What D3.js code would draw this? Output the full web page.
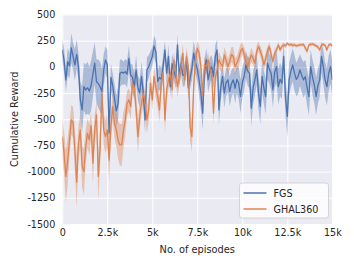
<!DOCTYPE html>
<html>
<head>
<meta charset="utf-8">
<script src="https://cdn.jsdelivr.net/npm/d3@7"></script>
<style>
  body { margin: 0; background: #fff; }
  text { font-family: "DejaVu Sans", sans-serif; fill: #262626; }
</style>
</head>
<body>
<div id="chart"></div>
<script>
// episodes sampled every 100
const episodes = d3.range(0, 15001, 100)

const fgsMean = [
  162, 60, -124, 50, 10, 180, 100, 20, 120, 0,
  -315, -410, -188, -220, -200, -230, -180, -70, 35, -140,
  -160, -190, -235, -29, 66, 20, -633, -100, -180, -300,
  -420, -350, -61, -50, -60, -45, -70, 82, -80, -100,
  -188, -30, -200, -250, -90, -250, -506, -30, 0, 50,
  98, 200, 140, -140, -100, -120, 0, 162, -60, 100,
  -190, 30, -40, -100, 210, -90, 30, -80, -80, 60,
  -200, -110, -20, 130, 40, -20, -130, -250, -442, -50,
  67, -124, -40, 3, -92, 100, 162, -410, -200, -92,
  -251, -150, -124, -235, -160, -124, -204, -120, -156, -283,
  -150, -92, 19, -40, -60, -394, -200, -124, -29, -250,
  -378, -92, -200, -283, 35, -20, -60, -219, -50, 3,
  -188, -120, -156, 99, -300, -474, -124, -40, 19, -60,
  -120, -92, -29, -80, -124, -92, -200, -283, 3, -100,
  -172, -283, -180, -124, 99, 0, -124, -188, -60, 3,
  -124
]
const fgsSpread = [
  100, 120, 110, 130, 120, 140, 130, 150, 140, 130,
  180, 220, 230, 240, 250, 230, 240, 220, 200, 210,
  230, 240, 220, 150, 130, 140, 160, 130, 120, 140,
  150, 160, 130, 120, 110, 120, 130, 120, 110, 120,
  130, 140, 120, 130, 140, 150, 130, 120, 110, 100,
  90, 100, 110, 100, 120, 110, 100, 90, 100, 110,
  100, 90, 100, 110, 100, 90, 100, 110, 100, 90,
  110, 100, 110, 120, 110, 120, 140, 160, 160, 120,
  110, 120, 130, 110, 120, 110, 100, 150, 130, 120,
  140, 130, 120, 140, 130, 120, 140, 130, 150, 160,
  150, 140, 130, 140, 150, 170, 160, 150, 140, 160,
  170, 150, 160, 170, 150, 140, 160, 170, 150, 160,
  170, 160, 150, 140, 170, 190, 160, 150, 160, 170,
  160, 170, 150, 160, 170, 160, 170, 180, 160, 170,
  170, 180, 170, 160, 150, 160, 170, 180, 170, 160,
  170
]
const ghalMean = [
  -665, -824, -1046, -900, -700, -506, -530, -800, -1100, -729,
  -601, -950, -1000, -760, -633, -697, -560, -919, -600, -458,
  -1046, -780, -252, -601, -665, -601, -888, -570, -379, -538,
  -601, -700, -745, -745, -601, -506, -347, -315, -379, -156,
  -188, -400, -665, -474, -347, -252, -347, -506, -410, -156,
  -315, -92, -200, -283, -410, -150, -50, -506, -220, -124,
  -61, -220, 66, -61, -188, -92, 3, 130, -124, 98,
  3, -570, -665, -188, 66, 178, 130, 3, -267, 20,
  3, 67, -20, -60, -442, -100, -29, 67, 30, 3,
  115, 60, 3, 51, 120, 99, 3, 35, 80, 146,
  178, 120, 51, 3, 60, 115, 80, 35, 146, 194,
  150, 99, 19, 80, 146, 194, 120, 51, 130, 160,
  210, 162, 194, 210, 200, 226, 210, 215, 205, 210,
  200, 205, 210, 210, 215, 178, 150, 210, 215, 220,
  210, 200, 190, 162, 210, 215, 205, 162, 210, 215,
  200
]
const ghalSpread = [
  180, 200, 250, 220, 160, 140, 150, 200, 250, 170,
  150, 200, 220, 160, 140, 150, 130, 200, 150, 120,
  230, 180, 130, 150, 160, 150, 200, 150, 120, 140,
  160, 180, 200, 200, 170, 150, 120, 110, 120, 100,
  110, 130, 160, 130, 110, 100, 110, 130, 110, 90,
  100, 90, 100, 110, 120, 90, 80, 130, 100, 90,
  80, 100, 80, 90, 100, 90, 80, 90, 80, 90,
  80, 140, 150, 100, 80, 70, 80, 90, 100, 80,
  70, 80, 70, 90, 110, 80, 70, 80, 70, 60,
  70, 80, 70, 80, 70, 90, 80, 70, 80, 70,
  60, 70, 80, 70, 60, 70, 60, 70, 60, 50,
  50, 60, 50, 60, 50, 40, 50, 40, 40, 30,
  30, 25, 25, 20, 20, 15, 15, 15, 20, 15,
  15, 15, 15, 15, 15, 25, 25, 15, 15, 15,
  15, 15, 20, 20, 15, 15, 15, 20, 15, 15,
  15
]

const xTicks = [0, 2500, 5000, 7500, 10000, 12500, 15000]
const yTicks = [500, 250, 0, -250, -500, -750, -1000, -1250, -1500]

const series = [
  { name: "FGS", mean: fgsMean, spread: fgsSpread, color: "#4C72B0" },
  { name: "GHAL360", mean: ghalMean, spread: ghalSpread, color: "#DD8452" }
]

const width = 354, height = 266
const margin = { top: 14.5, left: 62.3, right: 21.7, bottom: 42 }

const svg = d3.select("#chart").append("svg")
  .attr("width", width)
  .attr("height", height)

const x = d3.scaleLinear()
  .domain([0, 15000])
  .range([margin.left, width - margin.right])

const y = d3.scaleLinear()
  .domain([-1500, 500])
  .range([height - margin.bottom, margin.top])

svg.append("rect")
  .attr("x", margin.left)
  .attr("y", margin.top)
  .attr("width", x(15000) - x(0))
  .attr("height", y(-1500) - y(500))
  .attr("fill", "#EAEAF2")

const fmt = d => d === 0 ? "0" : (d / 1000) + "k"

const xAxis = g => g
  .attr("transform", `translate(0,${height - margin.bottom})`)
  .call(d3.axisBottom(x).tickValues(xTicks).tickFormat(fmt)
    .tickSize(-(y(-1500) - y(500))).tickPadding(5))
  .call(g => g.select(".domain").remove())
  .call(g => g.selectAll(".tick line").attr("stroke", "#fff").attr("stroke-width", 1))
  .call(g => g.selectAll(".tick text").attr("font-size", 9.6).attr("fill", "#262626"))

const yAxis = g => g
  .attr("transform", `translate(${margin.left},0)`)
  .call(d3.axisLeft(y).tickValues(yTicks).tickFormat(d => String(d))
    .tickSize(-(x(15000) - x(0))).tickPadding(7))
  .call(g => g.select(".domain").remove())
  .call(g => g.selectAll(".tick line").attr("stroke", "#fff").attr("stroke-width", 1))
  .call(g => g.selectAll(".tick text").attr("font-size", 9.6).attr("fill", "#262626"))

svg.append("g").call(xAxis)
svg.append("g").call(yAxis)

svg.append("clipPath").attr("id", "plot")
  .append("rect")
  .attr("x", margin.left).attr("y", margin.top)
  .attr("width", x(15000) - x(0)).attr("height", y(-1500) - y(500))

const area = d3.area()
  .x((d, i) => x(episodes[i]))
  .y0(d => y(d[0] - d[1]))
  .y1(d => y(d[0] + d[1]))

const line = d3.line()
  .x((d, i) => x(episodes[i]))
  .y(d => y(d))

const plot = svg.append("g").attr("clip-path", "url(#plot)")

plot.selectAll("path.band")
  .data(series)
  .join("path")
  .attr("class", "band")
  .attr("fill", d => d.color)
  .attr("fill-opacity", 0.4)
  .attr("d", d => area(d.mean.map((m, i) => [m, d.spread[i]])))

plot.selectAll("path.mean")
  .data(series)
  .join("path")
  .attr("class", "mean")
  .attr("fill", "none")
  .attr("stroke", d => d.color)
  .attr("stroke-width", 1.3)
  .attr("stroke-linejoin", "round")
  .attr("d", d => line(d.mean))

// axis labels
svg.append("text")
  .attr("x", (x(0) + x(15000)) / 2)
  .attr("y", 253)
  .attr("text-anchor", "middle")
  .attr("font-size", 9.8)
  .text("No. of episodes")

svg.append("text")
  .attr("transform", `translate(18,${(y(500) + y(-1500)) / 2}) rotate(-90)`)
  .attr("text-anchor", "middle")
  .attr("font-size", 9.8)
  .text("Cumulative Reward")

// legend
const legend = svg.append("g").attr("transform", "translate(239.5,183)")
legend.append("rect")
  .attr("width", 89).attr("height", 35).attr("rx", 2.5)
  .attr("fill", "#fff").attr("fill-opacity", 0.8)
  .attr("stroke", "#cccccc").attr("stroke-width", 0.8)

series.forEach((s, i) => {
  const row = legend.append("g").attr("transform", `translate(0,${10 + i * 16})`)
  row.append("line")
    .attr("x1", 4).attr("x2", 27)
    .attr("stroke", s.color).attr("stroke-width", 1.5)
  row.append("text")
    .attr("x", 34).attr("y", 3.5)
    .attr("font-size", 9.6)
    .text(s.name)
})
</script>
</body>
</html>
